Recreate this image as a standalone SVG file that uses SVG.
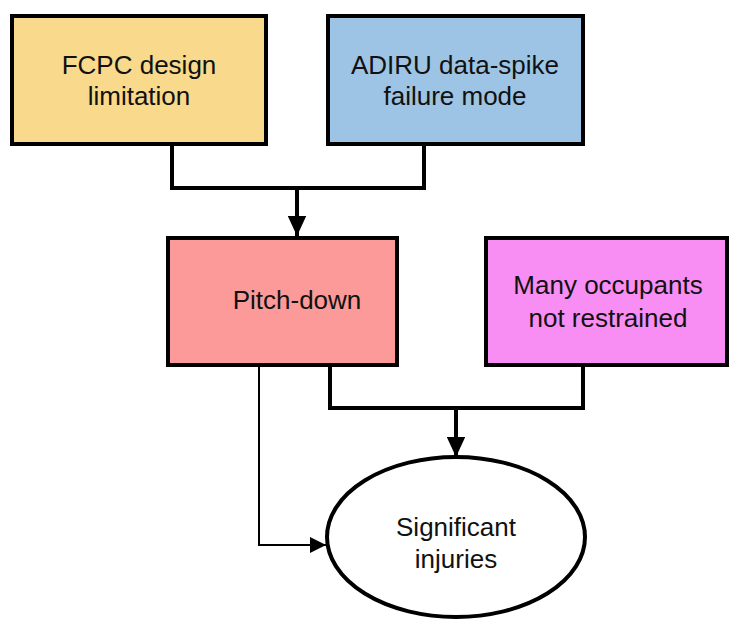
<svg xmlns="http://www.w3.org/2000/svg" width="730" height="624" viewBox="0 0 730 624">
<style>
.box{stroke:#000;stroke-width:4}
.t{font-family:"Liberation Sans",Arial,sans-serif;font-size:26px;fill:#111;text-anchor:middle}
.c{fill:none;stroke:#000;stroke-width:4;stroke-linejoin:miter}
.thin{fill:none;stroke:#000;stroke-width:2}
</style>
<defs>
<marker id="ah" viewBox="0 0 10 10" refX="10" refY="5" markerWidth="5" markerHeight="4.6" markerUnits="strokeWidth" orient="auto" preserveAspectRatio="none"><path d="M0,0 L10,5 L0,10 z" fill="#000"/></marker>
<marker id="ahs" viewBox="0 0 10 10" refX="10" refY="5" markerWidth="8" markerHeight="8" markerUnits="strokeWidth" orient="auto"><path d="M0,0 L10,5 L0,10 z" fill="#000"/></marker>
</defs>
<rect width="730" height="624" fill="#fff"/>
<g id="connectors">
<path class="c" d="M172,144 V188 H424 V144"/>
<path class="c" d="M297,188 V236" marker-end="url(#ah)"/>
<path class="c" d="M330,365 V408 H583 V365"/>
<path class="c" d="M456,408 V457" marker-end="url(#ah)"/>
<path class="thin" d="M259,365 V545 H326" marker-end="url(#ahs)"/>
</g>
<g id="fcpc">
<rect class="box" x="12" y="16" width="254" height="128" fill="#F9D98B"/>
<text class="t" x="139" y="74">FCPC design</text>
<text class="t" x="139" y="105">limitation</text>
</g>
<g id="adiru">
<rect class="box" x="328" y="16" width="255" height="128" fill="#9DC4E4"/>
<text class="t" x="455" y="74">ADIRU data-spike</text>
<text class="t" x="455" y="105">failure mode</text>
</g>
<g id="pitch">
<rect class="box" x="168" y="238" width="229" height="127" fill="#FB9A98"/>
<text class="t" x="297" y="309">Pitch-down</text>
</g>
<g id="occupants">
<rect class="box" x="486" y="238" width="241" height="127" fill="#F88EF3"/>
<text class="t" x="608" y="294">Many occupants</text>
<text class="t" x="608" y="327">not restrained</text>
</g>
<g id="injuries">
<ellipse class="box" cx="456" cy="537" rx="129" ry="80" fill="#fff"/>
<text class="t" x="456" y="536">Significant</text>
<text class="t" x="456" y="568">injuries</text>
</g>
</svg>
